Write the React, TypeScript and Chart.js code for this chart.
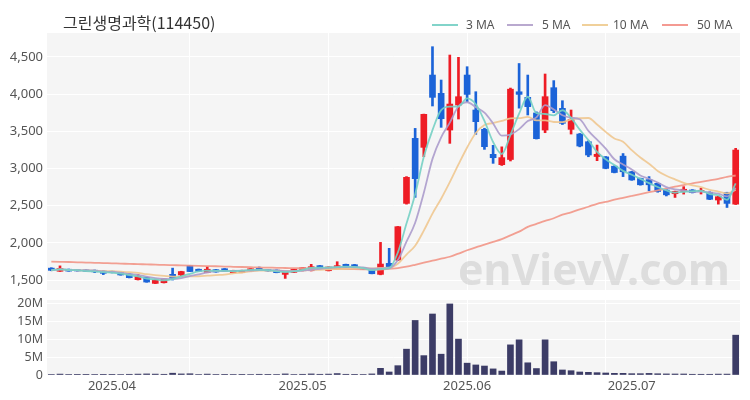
import React, { useEffect, useRef } from 'react';
import { Chart, registerables } from 'chart.js';
Chart.register(...registerables);

// Trading days per month (2025)
const marDays = [21, 24, 25, 26, 27, 28, 31];
const aprDays = [1, 2, 3, 4, 7, 8, 9, 10, 11, 14, 15, 16, 17, 18, 21, 22, 23, 24, 25, 28, 29, 30];
const mayDays = [2, 7, 8, 9, 12, 13, 14, 15, 16, 19, 20, 21, 22, 23, 26, 27, 28, 29, 30];
const junDays = [2, 4, 5, 9, 10, 11, 12, 13, 16, 17, 18, 19, 20, 23, 24, 25, 26, 27, 30];
const julDays = [1, 2, 3, 4, 7, 8, 9, 10, 11, 14, 15, 16, 17];
const monthDays: [string, number[]][] = [['03', marDays], ['04', aprDays], ['05', mayDays], ['06', junDays], ['07', julDays]];
const pad = (n: number) => (n < 10 ? '0' + n : '' + n);
const labels: string[] = monthDays.flatMap(([m, ds]) => ds.map((d) => `2025.${m}.${pad(d)}`));

const opens = [
  1660, 1618, 1645, 1640, 1636, 1632, 1622, 1618, 1605, 1582,
  1505, 1536, 1455, 1464, 1577, 1568, 1695, 1645, 1600, 1639,
  1652, 1599, 1600, 1621, 1657, 1639, 1634, 1576, 1603, 1625,
  1625, 1693, 1625, 1643, 1711, 1706, 1666, 1634, 1576, 1724,
  1769, 2530, 3404, 3283, 4255, 4009, 3516, 3852, 4255, 3785,
  3525, 3189, 3050, 3120, 4030, 3955, 3745, 3516, 4085, 3807,
  3525, 3462, 3359, 3160, 3155, 3030, 3165, 2955, 2865, 2850,
  2800, 2710, 2660, 2690, 2710, 2690, 2680, 2575, 2675, 2520,
];
const highs = [
  1665, 1690, 1648, 1642, 1638, 1635, 1625, 1620, 1608, 1585,
  1577, 1540, 1502, 1516, 1660, 1618, 1698, 1648, 1682, 1642,
  1655, 1632, 1632, 1655, 1675, 1642, 1637, 1605, 1645, 1668,
  1711, 1696, 1677, 1746, 1714, 1710, 1668, 1637, 2006, 1926,
  2220, 2890, 3538, 3730, 4636, 4188, 4524, 4493, 4367, 4031,
  3540, 3310, 3290, 4080, 4410, 4255, 3760, 4269, 4180, 3910,
  3785, 3470, 3370, 3314, 3160, 3035, 3200, 2960, 2870, 2890,
  2805, 2715, 2695, 2755, 2715, 2735, 2685, 2625, 2680, 3270,
];
const lows = [
  1625, 1615, 1618, 1620, 1615, 1600, 1573, 1595, 1565, 1528,
  1500, 1470, 1452, 1460, 1500, 1555, 1612, 1615, 1598, 1605,
  1615, 1596, 1598, 1618, 1628, 1619, 1597, 1522, 1600, 1622,
  1622, 1650, 1622, 1640, 1668, 1666, 1641, 1583, 1570, 1670,
  1760, 2520, 2611, 3158, 3839, 3552, 3337, 3664, 3897, 3458,
  3256, 3068, 3040, 3100, 3810, 3718, 3395, 3480, 3750, 3590,
  3462, 3290, 3157, 3104, 2995, 2940, 2890, 2840, 2775, 2700,
  2680, 2630, 2610, 2655, 2670, 2656, 2580, 2520, 2475, 2515,
];
const closes = [
  1630, 1655, 1620, 1622, 1618, 1610, 1590, 1600, 1568, 1532,
  1550, 1473, 1500, 1514, 1523, 1614, 1614, 1618, 1645, 1608,
  1617, 1630, 1630, 1652, 1630, 1621, 1599, 1603, 1643, 1666,
  1679, 1652, 1675, 1693, 1670, 1668, 1643, 1585, 1715, 1679,
  2217, 2880, 2862, 3727, 3955, 3668, 3865, 3964, 3995, 3628,
  3292, 3144, 3145, 4065, 3995, 3830, 3400, 3964, 3776, 3606,
  3659, 3301, 3180, 3190, 3000, 2945, 2955, 2845, 2780, 2780,
  2690, 2645, 2690, 2720, 2675, 2705, 2585, 2620, 2530, 3247,
];
const volumes = [
  150000, 250000, 120000, 100000, 100000, 120000, 180000, 100000, 150000, 200000,
  250000, 300000, 250000, 200000, 500000, 300000, 350000, 150000, 250000, 120000,
  100000, 120000, 100000, 150000, 200000, 100000, 120000, 300000, 150000, 200000,
  300000, 200000, 250000, 400000, 200000, 180000, 120000, 300000, 1860000, 840000,
  2600000, 7200000, 15200000, 5400000, 17000000, 5800000, 19800000, 10000000, 3300000, 2800000,
  2500000, 1700000, 1100000, 8400000, 9800000, 3400000, 1800000, 9800000, 3700000, 1400000,
  1200000, 840000, 740000, 650000, 560000, 470000, 470000, 370000, 370000, 450000,
  350000, 300000, 280000, 280000, 200000, 200000, 200000, 250000, 250000, 11100000,
];
// 50-day average (its window reaches before the visible range)
const ma50 = [
  1748, 1745, 1742, 1738, 1735, 1731, 1728, 1724, 1721, 1717,
  1714, 1710, 1707, 1703, 1700, 1697, 1694, 1691, 1688, 1685,
  1681, 1678, 1675, 1672, 1669, 1667, 1664, 1662, 1660, 1658,
  1656, 1654, 1652, 1650, 1648, 1646, 1644, 1642, 1640, 1650,
  1660, 1679, 1705, 1733, 1760, 1787, 1813, 1855, 1900, 1940,
  1975, 2012, 2050, 2100, 2150, 2215, 2255, 2295, 2330, 2380,
  2410, 2450, 2485, 2525, 2550, 2580, 2605, 2630, 2655, 2680,
  2705, 2730, 2755, 2775, 2800, 2820, 2840, 2860, 2885, 2905,
];
const priceTicks = [1500, 2000, 2500, 3000, 3500, 4000, 4500];
const volumeTicks = [0, 5000000, 10000000, 15000000, 20000000];
const maNames = ['3 MA', '5 MA', '10 MA', '50 MA'];
const maColors = ['rgba(118,208,196,0.9)', 'rgba(172,156,204,0.9)', 'rgba(240,200,145,0.9)', 'rgba(242,150,135,0.9)'];
const legendColors = ['#82d4ca', '#b9a9cf', '#f0d09a', '#f49a92'];
const UP = '#ee1c25';
const DOWN = '#1b63d8';
const VOL = '#3c3c66';

function rolling(values: number[], n: number) {
  return values.map((_, i) => {
    const w = values.slice(Math.max(0, i - n + 1), i + 1);
    return w.reduce((a, b) => a + b, 0) / w.length;
  });
}

const bgPlugin = {
  id: 'bg',
  beforeDraw(chart: any) {
    const { ctx, chartArea: a } = chart;
    ctx.save();
    ctx.fillStyle = '#f5f5f5';
    ctx.fillRect(a.left, a.top, a.right - a.left, a.bottom - a.top);
    ctx.restore();
  },
};

const watermarkPlugin = {
  id: 'wm',
  beforeDatasetsDraw(chart: any) {
    const { ctx } = chart;
    ctx.save();
    ctx.font = 'bold 46px "Noto Sans"';
    const w = ctx.measureText('enVievV.com').width;
    const size = (46 * 272) / w;
    ctx.font = `bold ${size}px "Noto Sans"`;
    ctx.fillStyle = 'rgba(200,200,200,0.55)';
    ctx.textBaseline = 'alphabetic';
    ctx.textAlign = 'left';
    ctx.fillText('enVievV.com', 458, 285);
    ctx.restore();
  },
};

const gridColor = (ctx: any) => (ctx.index > 0 && ctx.index % 16 === 0 ? '#ffffff' : 'rgba(0,0,0,0)');
const monthTick = (i: number) => {
  const l = labels[i];
  if (i === 0 || l.slice(5, 7) === '03') return '';
  return l.slice(5, 7) !== labels[i - 1].slice(5, 7) ? l.slice(0, 7) : '';
};
const fitY = (s: any) => { s.width = 47; s.paddingTop = 0; s.paddingBottom = 0; };

export default function App() {
  const priceRef = useRef<HTMLCanvasElement>(null);
  const volRef = useRef<HTMLCanvasElement>(null);

  useEffect(() => {
    const colors = closes.map((c, i) => (c >= opens[i] ? UP : DOWN));
    const mas = [rolling(closes, 3), rolling(closes, 5), rolling(closes, 10), ma50];
    const tickFont = { family: '"Noto Sans"', size: 13 };

    const price = new Chart(priceRef.current as HTMLCanvasElement, {
      type: 'bar',
      data: {
        labels,
        datasets: [
          ...mas.map((d, k) => ({
            type: 'line' as const,
            label: maNames[k],
            data: d,
            borderColor: maColors[k],
            borderWidth: 1.8,
            pointRadius: 0,
            cubicInterpolationMode: 'monotone' as const,
            order: 0,
          })),
          {
            type: 'bar' as const,
            label: 'body',
            data: opens.map((o, i) => [o, closes[i]]),
            backgroundColor: colors,
            barThickness: 6,
            grouped: false,
            minBarLength: 1,
            order: 1,
          },
          {
            type: 'bar' as const,
            label: 'wick',
            data: lows.map((l, i) => [l, highs[i]]),
            backgroundColor: colors,
            barThickness: 2,
            grouped: false,
            order: 2,
          },
        ] as any,
      },
      options: {
        animation: false,
        responsive: false,
        devicePixelRatio: 1,
        layout: { padding: { top: 33, right: 10, bottom: 2, left: 0 } },
        plugins: { legend: { display: false }, tooltip: { enabled: false }, title: { display: false } },
        scales: {
          x: {
            type: 'category',
            offset: true,
            grid: { color: gridColor, offset: false, drawTicks: false },
            border: { display: false },
            ticks: { display: false, autoSkip: false },
            afterFit: (s: any) => { s.height = 0; },
          },
          y: {
            min: 1366,
            max: 4820,
            grid: { color: '#ffffff', drawTicks: false },
            border: { display: false },
            afterBuildTicks: (s: any) => { s.ticks = priceTicks.map((v) => ({ value: v })); },
            afterFit: fitY,
            ticks: {
              autoSkip: false,
              padding: 4,
              color: '#555',
              font: tickFont,
              callback: (v: any) => Number(v).toLocaleString('en-US'),
            },
          },
        },
      } as any,
      plugins: [bgPlugin, watermarkPlugin],
    });

    const vol = new Chart(volRef.current as HTMLCanvasElement, {
      type: 'bar',
      data: {
        labels,
        datasets: [
          { label: 'Volume', data: volumes, backgroundColor: VOL, barThickness: 6 },
        ],
      },
      options: {
        animation: false,
        responsive: false,
        devicePixelRatio: 1,
        layout: { padding: { top: 8, right: 10, bottom: 0, left: 0 } },
        plugins: { legend: { display: false }, tooltip: { enabled: false } },
        scales: {
          x: {
            type: 'category',
            offset: true,
            grid: { color: gridColor, offset: false, drawTicks: false },
            border: { display: false },
            afterFit: (s: any) => { s.height = 25; },
            ticks: {
              autoSkip: false,
              maxRotation: 0,
              padding: 3,
              color: '#555',
              font: tickFont,
              callback: (_v: any, i: number) => monthTick(i),
            },
          },
          y: {
            min: 0,
            max: 20900000,
            grid: { color: '#ffffff', drawTicks: false },
            border: { display: false },
            afterBuildTicks: (s: any) => { s.ticks = volumeTicks.map((v) => ({ value: v })); },
            afterFit: fitY,
            ticks: {
              autoSkip: false,
              padding: 4,
              color: '#555',
              font: { family: '"Noto Sans"', size: 12.5 },
              callback: (v: any) => (Number(v) === 0 ? '0' : `${Number(v) / 1000000}M`),
            },
          },
        },
      } as any,
      plugins: [bgPlugin],
    });

    return () => { price.destroy(); vol.destroy(); };
  }, []);

  const legendPos = [
    { sw: 432, tx: 466 },
    { sw: 507, tx: 542 },
    { sw: 582, tx: 613 },
    { sw: 662, tx: 697 },
  ];

  return (
    <div style={{ position: 'fixed', left: 0, top: 0, width: 750, height: 400, background: '#fff', overflow: 'hidden' }}>
      <canvas ref={priceRef} width={750} height={292} style={{ position: 'absolute', left: 0, top: 0, width: 750, height: 292 }} />
      <canvas ref={volRef} width={750} height={108} style={{ position: 'absolute', left: 0, top: 292, width: 750, height: 108 }} />
      <div style={{ position: 'absolute', left: 63, top: 12, fontSize: 16, lineHeight: '20px', color: '#333', fontFamily: '"Noto Sans CJK KR", "Noto Sans", sans-serif', whiteSpace: 'nowrap' }}>
        그린생명과학(114450)
      </div>
      {maNames.map((n, k) => (
        <React.Fragment key={n}>
          <div style={{ position: 'absolute', left: legendPos[k].sw, top: 24, width: 26, height: 2, background: legendColors[k] }} />
          <div style={{ position: 'absolute', left: legendPos[k].tx, top: 17, fontSize: 12, lineHeight: '16px', color: '#555', fontFamily: '"Noto Sans", sans-serif', whiteSpace: 'nowrap' }}>
            {n}
          </div>
        </React.Fragment>
      ))}
    </div>
  );
}
